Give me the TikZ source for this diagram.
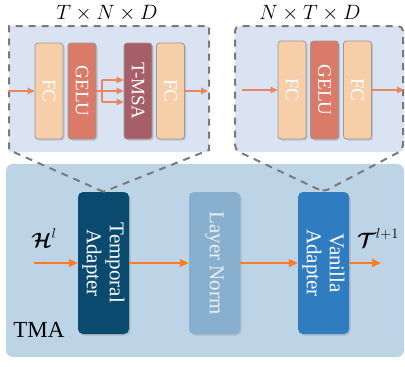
\documentclass[tikz,border=0pt]{standalone}
\usepackage{amsmath,bm}
\usepackage{fontspec}
\setmainfont{Liberation Serif}
\usetikzlibrary{arrows.meta,shadows,calc}
\definecolor{bigbox}{HTML}{BDD4E7}
\definecolor{panelc}{HTML}{DAE3F1}
\definecolor{fcc}{HTML}{F6CFA9}
\definecolor{geluc}{HTML}{D97B68}
\definecolor{msac}{HTML}{A65F68}
\definecolor{tempc}{HTML}{0A4A6E}
\definecolor{lnc}{HTML}{88AFCD}
\definecolor{vanc}{HTML}{2F7CC1}
\definecolor{orm}{HTML}{FF7B24}
\definecolor{orp}{HTML}{EB8460}
\definecolor{dashc}{HTML}{7A7A7A}
\definecolor{lntext}{HTML}{E8EFF6}
\begin{document}
\begin{tikzpicture}[x=1pt,y=-1pt,
  sbox/.style={rectangle, rotate=-90, rounded corners=3pt, draw=black!40, line width=0.8pt,
     minimum width=96pt, minimum height=28pt, inner sep=0pt, text=white,
     font=\fontsize{19}{20}\selectfont,
     drop shadow={shadow xshift=1.5pt, shadow yshift=-1.5pt, opacity=0.3}},
  abox/.style={rectangle, rotate=-90, rounded corners=5pt, draw=none,
     minimum width=142pt, minimum height=51pt, inner sep=0pt, text=white, align=center,
     font=\fontsize{21}{23}\selectfont,
     drop shadow={shadow xshift=1.5pt, shadow yshift=-1.5pt, opacity=0.3}},
  marrow/.style={draw=orm, line width=2pt, -{Triangle[length=9pt,width=8pt]}},
  parrow/.style={draw=orp, line width=1.3pt, -{Triangle[length=7pt,width=6.5pt]}},
  pline/.style={draw=orp, line width=1.3pt},
  dashline/.style={draw=dashc, line width=2pt, dash pattern=on 7pt off 6pt},
  lbl/.style={inner sep=0pt}
]
\useasboundingbox (0,0) rectangle (405,367);
% big TMA box
\fill[bigbox, rounded corners=7pt] (6,164) rectangle (404,357);
% panels
\fill[panelc] (9,26) rectangle (209,152);
\fill[panelc, rounded corners=5pt] (235,26) rectangle (404,152);

% adapters
\node[abox, fill=tempc] (ta) at (103.5,263) {Temporal\\Adapter};
\node[abox, fill=lnc, text=lntext] (ln) at (214.5,263) {Layer Norm};
\node[abox, fill=vanc] (va) at (323.5,263) {Vanilla\\Adapter};

% dashed outlines
\draw[dashline] (ta.west) -- (9,150) -- (9,26) -- (209,26) -- (209,150) -- cycle;
\draw[dashline, rounded corners=5pt] (va.west) -- (235,150) -- (235,26) -- (403,26) -- (403,150) -- cycle;

% left panel boxes
\node[sbox, fill=fcc] (fc1) at (49,91) {FC};
\node[sbox, fill=geluc] (gelu1) at (82,91) {GELU};
\node[sbox, fill=msac] (tmsa) at (138,91) {T-MSA};
\node[sbox, fill=fcc] (fc2) at (170.5,91) {FC};
% right panel boxes
\node[sbox, fill=fcc, minimum width=98pt] (fc3) at (292,90) {FC};
\node[sbox, fill=geluc, minimum width=98pt] (gelu2) at (324.5,90) {GELU};
\node[sbox, fill=fcc, minimum width=98pt] (fc4) at (357.5,90) {FC};

% panel arrows
\coordinate (lin) at (8,91);
\coordinate (lout) at (208,91);
\coordinate (br) at (102,91);
\draw[parrow] (lin) -- (fc1.south);
\draw[pline] (gelu1.north) -- (br);
\draw[pline] ([yshift=11pt]br) -- ([yshift=-11pt]br);
\foreach \d in {11,0,-11} \draw[parrow] ([yshift=\d pt]br) -- ([yshift=\d pt]tmsa.south);
\draw[parrow] (fc2.north) -- (lout);
\coordinate (rin) at (242,90);
\coordinate (rout) at (404,90);
\draw[parrow] (rin) -- (fc3.south);
\draw[parrow] (fc4.north) -- (rout);

% main arrows
\coordinate (min) at (34,263);
\coordinate (mout) at (381,263);
\draw[marrow] (min) -- (ta.south);
\draw[marrow] (ta.north) -- (ln.south);
\draw[marrow] (ln.north) -- (va.south);
\draw[marrow] (va.north) -- (mout);

% labels
\node[lbl] (dim1) at (107,13) {\fontsize{21.5}{24}\selectfont $T\times N\times D$};
\node[lbl] (dim2) at (310,13) {\fontsize{21.5}{24}\selectfont $N\times T\times D$};
\node[lbl] (hl) at (44,238) {\fontsize{20}{22}\selectfont $\bm{\mathcal{H}}^{l}$};
\node[lbl] (tl) at (378,238) {\fontsize{20}{22}\selectfont $\bm{\mathcal{T}}^{l+1}$};
\node[lbl] (tma) at (39,330) {\fontsize{23}{25}\selectfont TMA};
\end{tikzpicture}
\end{document}
